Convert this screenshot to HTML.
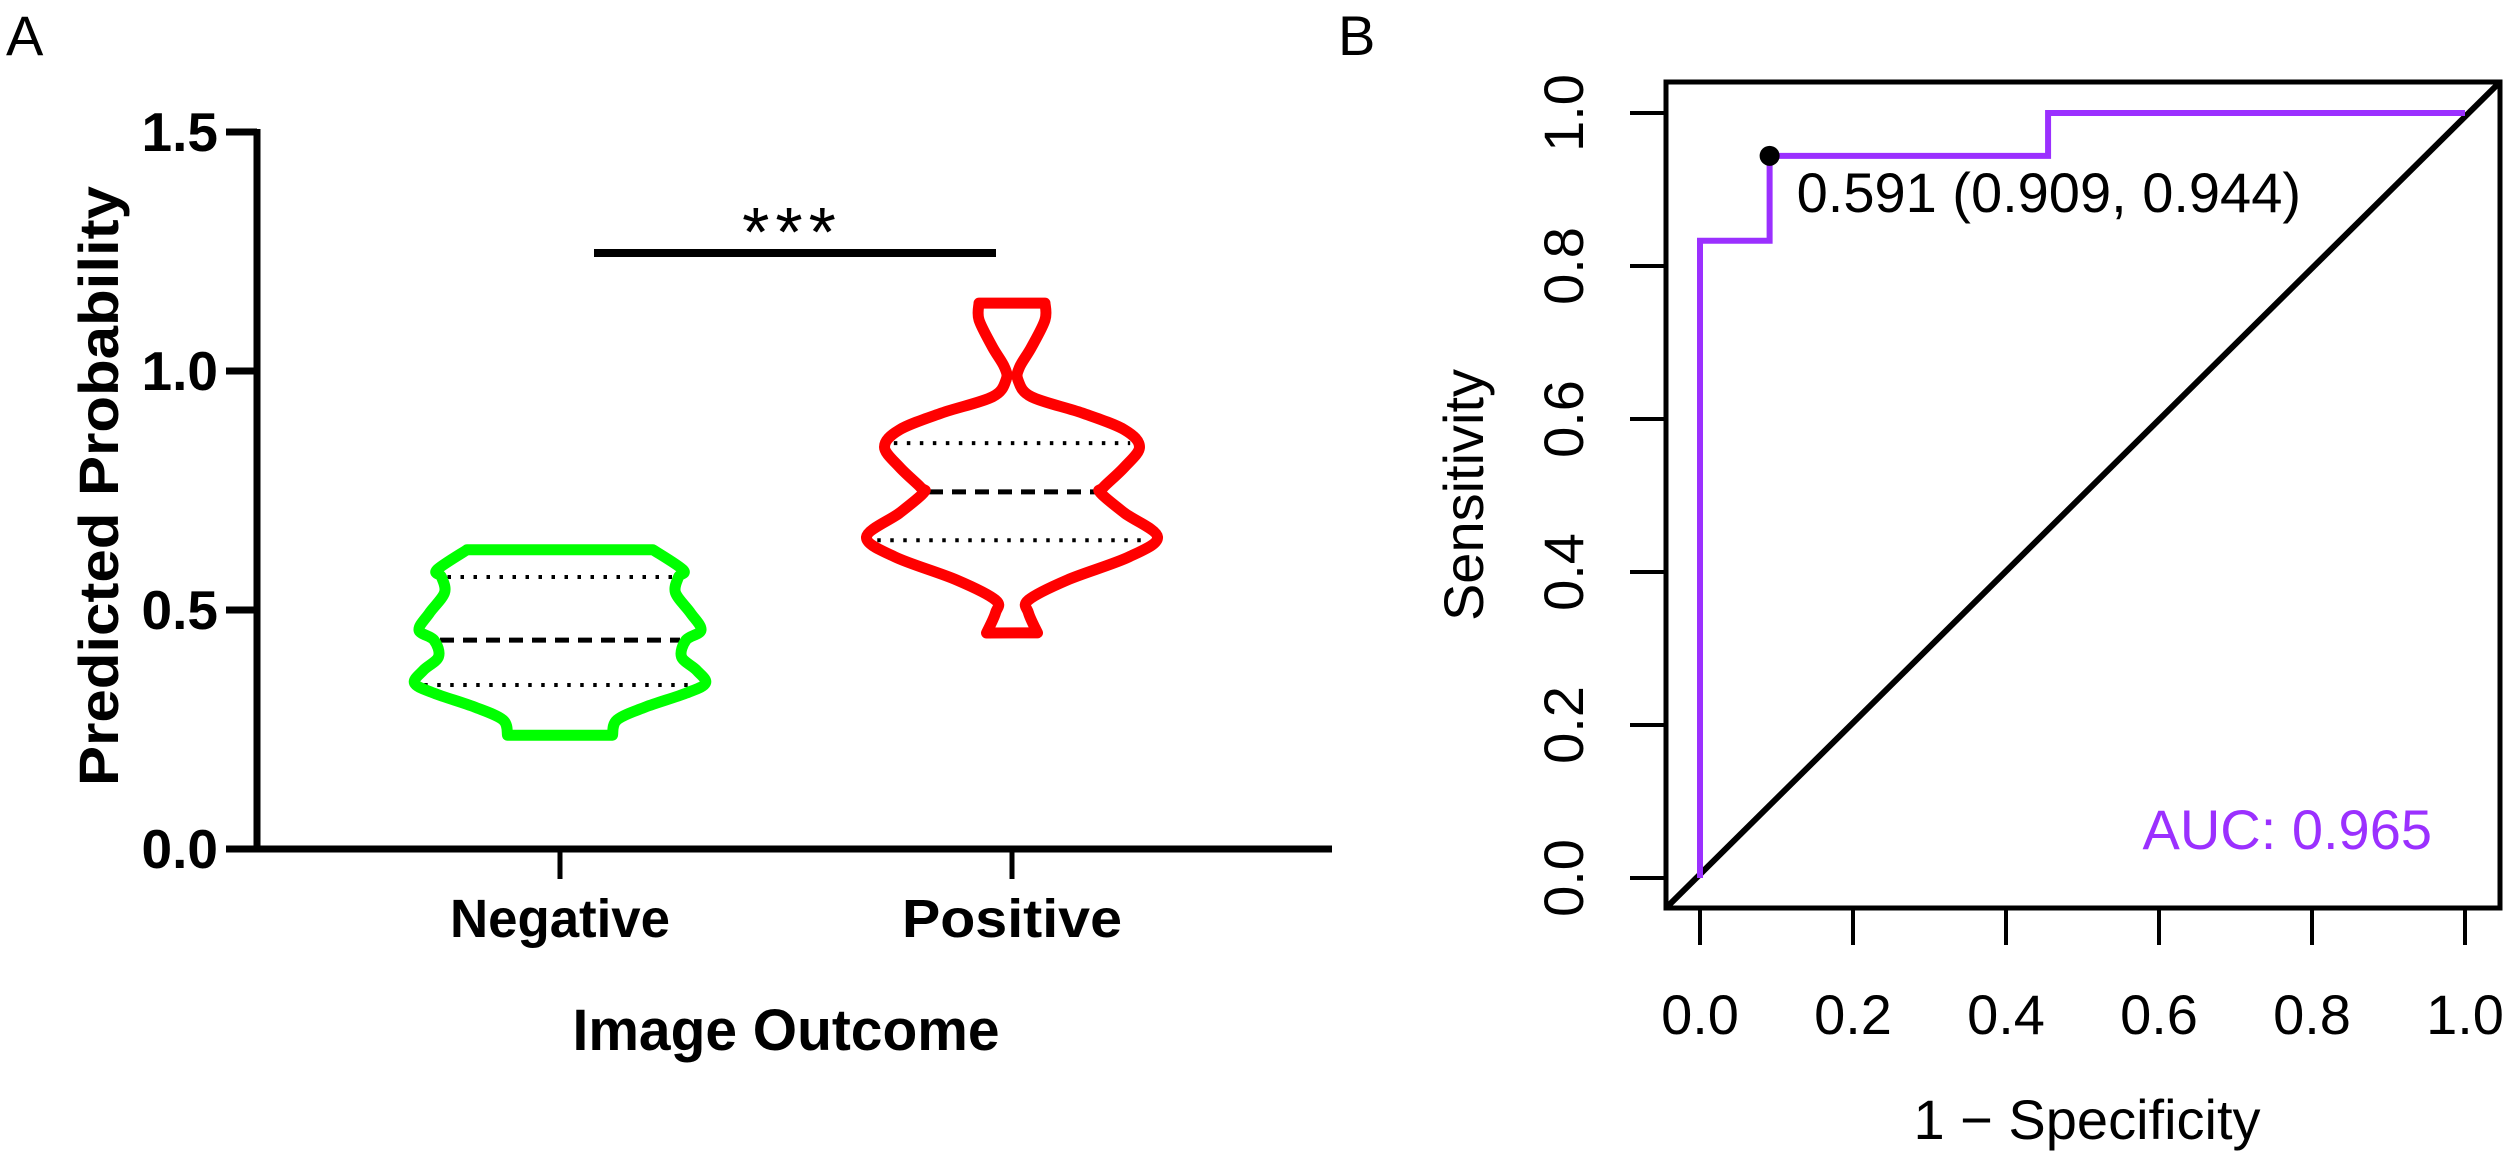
<!DOCTYPE html>
<html><head><meta charset="utf-8"><style>
html,body{margin:0;padding:0;background:#fff;}
svg{display:block;}
text{font-family:"Liberation Sans",Arial,sans-serif;}
</style></head><body>
<svg id="fig" width="2508" height="1156" viewBox="0 0 2508 1156" xmlns="http://www.w3.org/2000/svg">
<rect width="2508" height="1156" fill="#fff"/>
<text x="6" y="55" font-size="56">A</text>
<text x="1338" y="55" font-size="56">B</text>
<g id="pa"></g>
<g id="pb"></g>
</svg>
<script>
// ---------- Panel A data ----------
const groups = ["Negative", "Positive"];
const yTicksA = [0.0, 0.5, 1.0, 1.5];
const yTickLabelsA = ["0.0", "0.5", "1.0", "1.5"];
const negLevels = [0.626,0.584,0.569,0.536,0.494,0.458,0.437,0.402,0.374,0.347,0.326,0.297,0.270,0.238];
const negDensity = [0.62,0.82,0.79,0.77,0.87,0.94,0.84,0.81,0.91,0.97,0.84,0.57,0.38,0.35];
const posLevels = [1.142,1.107,1.050,1.008,0.981,0.946,0.912,0.877,0.841,0.799,0.757,0.745,0.703,0.653,0.611,0.563,0.521,0.494,0.452];
const posDensity = [0.22,0.22,0.13,0.05,0.04,0.13,0.47,0.75,0.85,0.75,0.61,0.59,0.75,0.97,0.78,0.37,0.11,0.11,0.17];
const negQuartiles = [0.343, 0.437, 0.569];
const posQuartiles = [0.646, 0.747, 0.849];
const sigLabel = "***";

// ---------- Panel B data ----------
const rocFpr = [0, 0, 0.091, 0.091, 0.455, 0.455, 1.0];
const rocTpr = [0, 0.833, 0.833, 0.944, 0.944, 1.0, 1.0];
const bestPoint = [0.091, 0.944];
const bestLabel = "0.591 (0.909, 0.944)";
const aucLabel = "AUC: 0.965";
const ticksB = [0, 0.2, 0.4, 0.6, 0.8, 1.0];
const tickLabelsB = ["0.0", "0.2", "0.4", "0.6", "0.8", "1.0"];

const NS = "http://www.w3.org/2000/svg";
function mk(parent, tag, attrs, txt) {
  const e = document.createElementNS(NS, tag);
  for (const k in attrs) e.setAttribute(k, attrs[k]);
  if (txt !== undefined) e.textContent = txt;
  parent.appendChild(e);
  return e;
}

// ===== Panel A =====
const pa = document.getElementById("pa");
const yA = v => 849 - v * 478;
const xA = i => 560 + i * 452;
const wA = d => d * 150;

let e = mk(pa, "line", {x1:257, y1:yA(1.5)-3, x2:257, y2:852, stroke:"#000", "stroke-width":7});


e = mk(pa, "line", {x1:226, y1:849, x2:1332, y2:849, stroke:"#000", "stroke-width":7});


yTicksA.forEach((t, i) => {
  const tk = mk(pa, "line", {x1:226, y1:yA(t), x2:257, y2:yA(t), stroke:"#000", "stroke-width":7});
  
  
  const lb = mk(pa, "text", {x:218, y:yA(t)+19, "font-size":55, "font-weight":"bold", "text-anchor":"end"}, yTickLabelsA[i]);
  
  
});
groups.forEach((g, i) => {
  const tk = mk(pa, "line", {x1:xA(i), y1:849, x2:xA(i), y2:879, stroke:"#000", "stroke-width":5});
  
  
  const lb = mk(pa, "text", {x:xA(i), y:937, "font-size":54, "font-weight":"bold", "text-anchor":"middle", textLength:220, lengthAdjust:"spacingAndGlyphs"}, g);
  
  
});
e = mk(pa, "text", {x:786, y:1050, "font-size":58, "font-weight":"bold", "text-anchor":"middle", textLength:427, lengthAdjust:"spacingAndGlyphs"}, "Image Outcome");


e = mk(pa, "text", {x:0, y:0, "font-size":56, "font-weight":"bold", "text-anchor":"middle", transform:"translate(118,486) rotate(-90)", textLength:600, lengthAdjust:"spacingAndGlyphs"}, "Predicted Probability");



function catmull(pts) {
  let d = "";
  for (let i = 0; i < pts.length - 1; i++) {
    const p0 = pts[Math.max(0, i-1)], p1 = pts[i], p2 = pts[i+1], p3 = pts[Math.min(pts.length-1, i+2)];
    const c1 = [p1[0] + (p2[0]-p0[0])/6, p1[1] + (p2[1]-p0[1])/6];
    const c2 = [p2[0] - (p3[0]-p1[0])/6, p2[1] - (p3[1]-p1[1])/6];
    d += ` C${c1[0].toFixed(1)},${c1[1].toFixed(1)} ${c2[0].toFixed(1)},${c2[1].toFixed(1)} ${p2[0].toFixed(1)},${p2[1].toFixed(1)}`;
  }
  return d;
}
function interpHW(levels, dens, v) {
  for (let i = 0; i < levels.length - 1; i++) {
    if (v <= levels[i] && v >= levels[i+1]) {
      const t = (levels[i] - v) / (levels[i] - levels[i+1]);
      return wA(dens[i] + t * (dens[i+1] - dens[i]));
    }
  }
  return wA(dens[dens.length-1]);
}
function violin(i, levels, dens, quart, color, name) {
  const cx = xA(i);
  const right = levels.map((v, k) => [cx + wA(dens[k]), yA(v)]);
  const left = levels.map((v, k) => [cx - wA(dens[k]), yA(v)]).reverse();
  let d = `M${left[left.length-1][0]},${left[left.length-1][1]} L${right[0][0]},${right[0][1]}` + catmull(right);
  d += ` L${left[0][0]},${left[0][1]}` + catmull(left) + " Z";
  quart.forEach((q, k) => {
    const hw = interpHW(levels, dens, q) - 6;
    const ql = mk(pa, "line", {x1:cx-hw, y1:yA(q), x2:cx+hw, y2:yA(q), stroke:"#000",
      "stroke-width": k === 1 ? 5 : 4, "stroke-dasharray": k === 1 ? "14 9" : "3.5 9.5"});
    
    
  });
  const p = mk(pa, "path", {d:d, fill:"none", stroke:color, "stroke-width":11, "stroke-linejoin":"round"});
  
  
}
violin(0, negLevels, negDensity, negQuartiles, "#00ff00", "violin-negative");
violin(1, posLevels, posDensity, posQuartiles, "#ff0000", "violin-positive");

e = mk(pa, "line", {x1:594, y1:253, x2:996, y2:253, stroke:"#000", "stroke-width":8});


e = mk(pa, "text", {x:792, y:256, "font-size":70, "text-anchor":"middle", "letter-spacing":"6"}, sigLabel);



// ===== Panel B =====
const pb = document.getElementById("pb");
const xB = v => 1700 + v * 765;
const yB = v => 878 - v * 765;
e = mk(pb, "rect", {x:1666, y:82, width:834, height:826, fill:"none", stroke:"#000", "stroke-width":5});


ticksB.forEach((t, i) => {
  const tx = mk(pb, "line", {x1:xB(t), y1:908, x2:xB(t), y2:945, stroke:"#000", "stroke-width":4});
  
  
  const lx = mk(pb, "text", {x:xB(t), y:1034, "font-size":56, "text-anchor":"middle"}, tickLabelsB[i]);
  
  
  const ty = mk(pb, "line", {x1:1630, y1:yB(t), x2:1666, y2:yB(t), stroke:"#000", "stroke-width":4});
  
  
  const ly = mk(pb, "text", {x:0, y:0, "font-size":56, "text-anchor":"middle", transform:`translate(1583,${yB(t)}) rotate(-90)`}, tickLabelsB[i]);
  
  
});
e = mk(pb, "text", {x:2087, y:1139, "font-size":56, "text-anchor":"middle"}, "1 \u2212 Specificity");


e = mk(pb, "text", {x:0, y:0, "font-size":56, "text-anchor":"middle", transform:"translate(1483,495) rotate(-90)"}, "Sensitivity");


e = mk(pb, "line", {x1:1666, y1:908, x2:2500, y2:82, stroke:"#000", "stroke-width":6});


const rocPts = rocFpr.map((f, i) => `${xB(f)},${yB(rocTpr[i])}`).join(" ");
e = mk(pb, "polyline", {points:rocPts, fill:"none", stroke:"#9b30ff", "stroke-width":6});


e = mk(pb, "circle", {cx:xB(bestPoint[0]), cy:yB(bestPoint[1]), r:10, fill:"#000"});


e = mk(pb, "text", {x:xB(bestPoint[0])+27, y:yB(bestPoint[1])+56, "font-size":56}, bestLabel);


e = mk(pb, "text", {x:2432, y:849, "font-size":56, "text-anchor":"end", fill:"#9b30ff"}, aucLabel);


</script>
</body></html>
